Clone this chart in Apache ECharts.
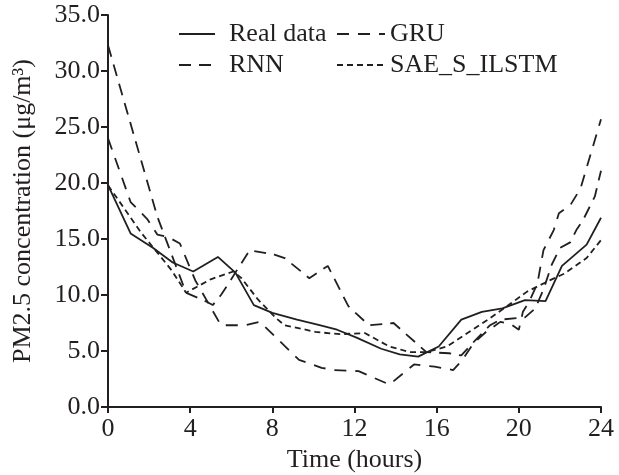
<!DOCTYPE html>
<html>
<head>
<meta charset="utf-8">
<script src="https://cdn.jsdelivr.net/npm/echarts@6/dist/echarts.min.js"></script>
<style>
  html, body { margin: 0; padding: 0; background: #fff; }
  #chart { width: 619px; height: 475px; }
</style>
</head>
<body>
<div id="chart"></div>
<script>
// [hour, PM2.5] pairs
const realData = [[0,19.8],[1.1,15.5],[2.2,14.2],[3.15,12.9],[4.15,12.1],[5.35,13.4],[6.2,12.0],[7.1,9.1],[8.0,8.4],[9.2,7.8],[10.3,7.3],[11.15,6.9],[12.1,6.2],[13.3,5.2],[14.2,4.7],[15.1,4.5],[16.1,5.4],[17.2,7.8],[18.2,8.5],[19.2,8.8],[20.3,9.55],[21.3,9.45],[22.1,12.6],[23.3,14.5],[24,16.9]];
const gruData = [[0,24.0],[1.1,18.3],[1.9,16.8],[2.4,15.4],[2.9,15.2],[3.5,14.6],[4.25,11.3],[5.5,7.3],[6.7,7.3],[7.4,7.6],[9.3,4.2],[9.8,3.9],[10.4,3.5],[11.0,3.3],[12.2,3.2],[13.7,2.0],[14.9,3.8],[15.9,3.6],[16.8,3.3],[17.25,4.2],[17.8,5.7],[18.4,6.7],[19.1,7.6],[19.6,7.4],[20.0,6.9],[20.2,8.5],[20.5,9.4],[20.9,11.0],[21.2,14.0],[21.7,15.8],[21.95,17.3],[22.5,18.0],[23.0,19.5],[24,25.7]];
const rnnData = [[0,32.3],[2.4,17.0],[3.8,10.2],[4.8,9.4],[5.1,9.1],[5.5,10.0],[5.9,11.1],[6.2,12.0],[6.9,14.0],[8.1,13.6],[8.6,13.3],[9.8,11.5],[10.7,12.6],[11.7,9.0],[12.7,7.3],[13.9,7.5],[15.5,4.9],[16.6,4.8],[17.2,4.6],[17.9,6.0],[18.6,7.3],[19.1,7.8],[20.3,8.0],[20.8,8.8],[21.2,10.5],[21.6,12.7],[22.0,14.2],[22.5,14.7],[22.8,15.8],[23.1,16.6],[23.7,18.8],[24,21.1]];
const saeData = [[0,19.8],[1.6,15.6],[3.1,12.2],[3.8,10.2],[5.0,11.4],[6.1,12.1],[6.5,11.5],[7.3,9.6],[8.2,7.9],[8.6,7.3],[9.4,7.0],[10.1,6.7],[11.3,6.5],[12.5,6.6],[13.7,5.4],[14.7,4.9],[15.5,4.9],[16.5,5.4],[17.5,6.6],[18.5,7.8],[19.5,9.1],[20.4,10.3],[21.5,11.3],[22.2,11.9],[23.3,13.3],[24,14.9]];

const FONT = 'Liberation Serif';
const INK = '#231f20';

const chart = echarts.init(document.getElementById('chart'), null, { renderer: 'canvas' });

function lineSeries(name, data, dash, width) {
  return {
    name, type: 'line', data,
    symbol: 'none', silent: true, animation: false,
    itemStyle: { color: INK },
    lineStyle: { color: INK, width: width, type: dash }
  };
}

const legendBase = {
  orient: 'vertical', top: 21, padding: 0,
  itemHeight: 14, itemGap: 5,
  itemStyle: { opacity: 0 },
  selectedMode: false
};

chart.setOption({
  backgroundColor: '#fff',
  animation: false,
  textStyle: { fontFamily: FONT, color: INK },
  grid: { left: 108, right: 18, top: 15, bottom: 68, outerBoundsMode: 'none', containLabel: false },
  legend: [
    Object.assign({}, legendBase, {
      data: ['Real data', 'RNN'], left: 178, itemWidth: 36,
      textStyle: { fontFamily: FONT, fontSize: 26, color: INK, padding: [0, 0, 0, 9] }
    }),
    Object.assign({}, legendBase, {
      data: ['GRU', 'SAE_S_ILSTM'], left: 336, itemWidth: 48,
      textStyle: { fontFamily: FONT, fontSize: 26, color: INK }
    })
  ],
  xAxis: {
    type: 'value', min: 0, max: 24, interval: 4,
    name: 'Time (hours)', nameLocation: 'middle', nameGap: 40,
    nameTextStyle: { fontFamily: FONT, fontSize: 26, color: INK },
    axisLine: { lineStyle: { color: INK, width: 2 } },
    axisTick: { inside: false, length: 6, lineStyle: { color: INK, width: 2 } },
    axisLabel: { fontFamily: FONT, fontSize: 26, color: INK, margin: 9 },
    splitLine: { show: false }
  },
  yAxis: {
    type: 'value', min: 0, max: 35, interval: 5,
    name: 'PM2.5 concentration (μg/m³)', nameLocation: 'middle', nameGap: 72,
    nameTextStyle: { fontFamily: FONT, fontSize: 26, color: INK },
    axisLine: { show: true, lineStyle: { color: INK, width: 2 } },
    axisTick: { show: true, inside: false, length: 7, lineStyle: { color: INK, width: 2 } },
    axisLabel: { fontFamily: FONT, fontSize: 26, color: INK, margin: 8, formatter: v => v.toFixed(1) },
    splitLine: { show: false }
  },
  series: [
    lineSeries('Real data', realData, 'solid', 1.8),
    lineSeries('GRU', gruData, [12, 9], 1.8),
    lineSeries('RNN', rnnData, [12, 8], 1.8),
    lineSeries('SAE_S_ILSTM', saeData, [6, 4], 1.8)
  ]
});
</script>
</body>
</html>
